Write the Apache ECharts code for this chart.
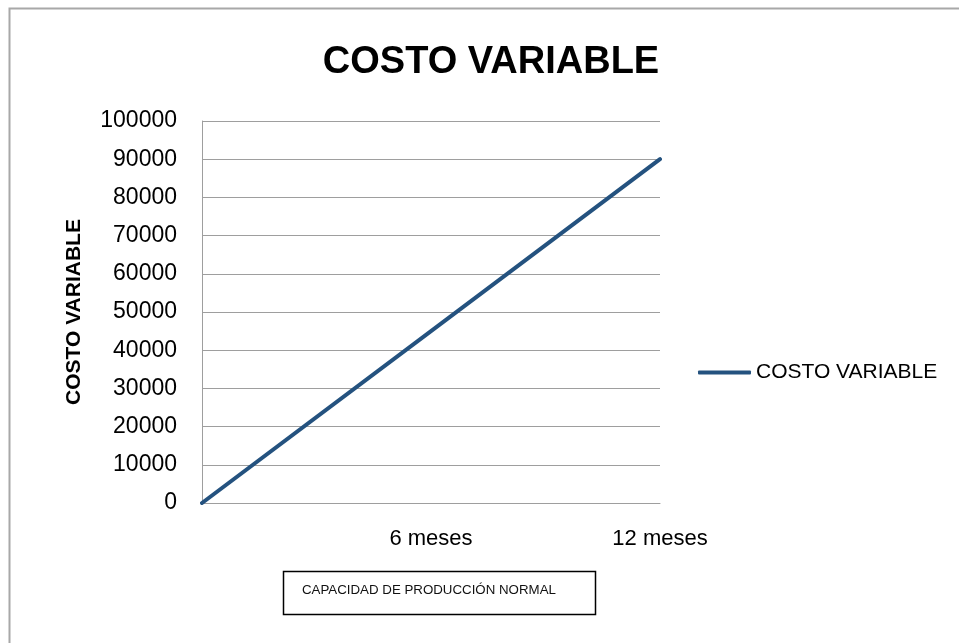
<!DOCTYPE html>
<html>
<head>
<meta charset="utf-8">
<script src="https://cdn.jsdelivr.net/npm/echarts@6/dist/echarts.min.js"></script>
<style>html,body{margin:0;padding:0;background:#fff;}#c{width:959px;height:643px;}</style>
</head>
<body>
<div id="c"></div>
<script>
const titleText = 'COSTO VARIABLE';
const categories = ['', '6 meses', '12 meses'];
const seriesName = 'COSTO VARIABLE';
const values = [0, 45000, 90000];
const yAxisName = 'COSTO VARIABLE';
const boxLabel = 'CAPACIDAD DE PRODUCCIÓN NORMAL';

const chart = echarts.init(document.getElementById('c'), null, {renderer: 'canvas'});
const font = 'Liberation Sans, Arial, sans-serif';
chart.setOption({
  backgroundColor: '#fff',
  animation: false,
  title: {
    text: titleText,
    left: 486,
    top: 39,
    textAlign: 'center',
    textStyle: {fontFamily: font, fontWeight: 'bold', fontSize: 38, color: '#000'}
  },
  legend: {
    left: 693,
    top: 357,
    icon: 'roundRect',
    itemWidth: 53,
    itemHeight: 4,
    itemGap: 10,
    textStyle: {fontFamily: font, fontSize: 21, color: '#000'},
    data: [seriesName]
  },
  grid: {left: 202, right: 299, top: 121, bottom: 140, containLabel: false},
  xAxis: {
    type: 'category',
    data: categories,
    boundaryGap: false,
    axisLine: {show: true, lineStyle: {color: '#9E9E9E', width: 1}},
    axisTick: {show: false},
    splitLine: {show: false},
    axisLabel: {margin: 25, fontFamily: font, fontSize: 22, color: '#000', interval: 0}
  },
  yAxis: {
    type: 'value',
    min: 0,
    max: 100000,
    interval: 10000,
    name: yAxisName,
    nameLocation: 'middle',
    nameGap: 117,
    nameTextStyle: {fontFamily: font, fontWeight: 'bold', fontSize: 21, color: '#000'},
    axisLine: {show: true, lineStyle: {color: '#9E9E9E', width: 1}},
    axisTick: {show: false},
    splitLine: {show: true, lineStyle: {color: '#9E9E9E', width: 1}},
    axisLabel: {margin: 25, fontFamily: font, fontSize: 23, color: '#000', padding: [8, 0, 0, 0], formatter: function (v) { return String(v); }}
  },
  series: [{
    name: seriesName,
    type: 'line',
    data: values,
    symbol: 'none',
    lineStyle: {color: '#24527F', width: 4, cap: 'round'},
    itemStyle: {color: '#24527F'}
  }],
  graphic: [
    {type: 'rect', silent: true, z: -1, shape: {x: 9.5, y: 8.5, width: 1000, height: 700}, style: {fill: 'none', stroke: '#A8A8A8', lineWidth: 2}},
    {type: 'rect', shape: {x: 283.5, y: 571.5, width: 312, height: 43}, style: {fill: '#fff', stroke: '#000', lineWidth: 1.5}},
    {type: 'text', x: 302, y: 590, style: {text: boxLabel, fontFamily: font, fontSize: 13.3, fill: '#111', textVerticalAlign: 'middle', textAlign: 'left'}}
  ]
});
</script>
</body>
</html>
